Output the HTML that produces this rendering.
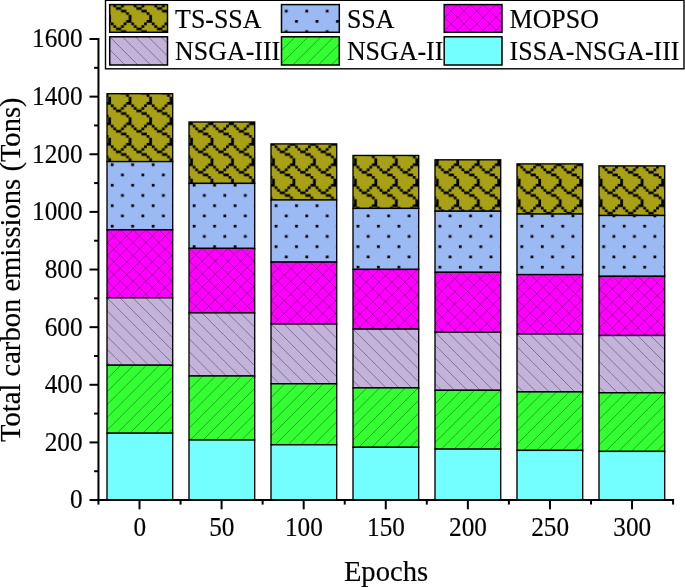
<!DOCTYPE html>
<html lang="en"><head><meta charset="utf-8"><title>Total carbon emissions</title>
<style>html,body{margin:0;padding:0;background:#fff;}body{width:685px;height:587px;overflow:hidden;}svg{display:block;}</style>
</head><body>
<svg width="685" height="587" viewBox="0 0 685 587" font-family="'Liberation Serif', 'Times New Roman', serif" fill="#000">
<defs>
<pattern id="pts" patternUnits="userSpaceOnUse" x="8.5" y="20.04" width="20.48" height="20.48"><rect width="20.48" height="20.48" fill="#a8a116"/><path d="M15.250 -0.110h5.340v2.780h-5.340zM15.250 20.370h5.340v2.780h-5.340zM-5.230 -0.110h5.340v2.780h-5.340zM-5.230 20.370h5.340v2.780h-5.340zM-0.110 2.450h2.780v2.780h-2.780zM20.370 2.450h2.780v2.780h-2.780zM12.690 2.450h2.780v2.780h-2.780zM2.450 5.010h2.780v2.780h-2.780zM10.130 5.010h2.780v2.780h-2.780zM5.010 7.570h5.340v2.780h-5.340zM10.130 10.130h5.340v2.780h-5.340zM15.250 12.690h2.780v2.780h-2.780zM17.810 15.250h2.780v2.780h-2.780zM-2.670 15.250h2.780v2.780h-2.780zM17.810 17.810h2.780v2.780h-2.780zM17.810 -2.670h2.780v2.780h-2.780zM-2.670 17.810h2.780v2.780h-2.780zM-2.670 -2.670h2.780v2.780h-2.780z" fill="#000"/></pattern>
<pattern id="pssa" patternUnits="userSpaceOnUse" x="8.5" y="20.04" width="20.48" height="20.48"><rect width="20.48" height="20.48" fill="#9bbaf3"/><path d="M-0.110 -0.110h2.780v2.780h-2.780zM-0.110 20.370h2.780v2.780h-2.780zM20.370 -0.110h2.780v2.780h-2.780zM20.370 20.370h2.780v2.780h-2.780zM10.130 10.130h2.780v2.780h-2.780z" fill="#000"/></pattern>
<clipPath id="c1"><rect x="107.00" y="229.80" width="65.70" height="68.00"/></clipPath>
<clipPath id="c2"><rect x="107.00" y="297.80" width="65.70" height="67.40"/></clipPath>
<clipPath id="c3"><rect x="107.00" y="365.20" width="65.70" height="68.00"/></clipPath>
<clipPath id="c4"><rect x="189.00" y="248.40" width="65.70" height="64.50"/></clipPath>
<clipPath id="c5"><rect x="189.00" y="312.90" width="65.70" height="63.10"/></clipPath>
<clipPath id="c6"><rect x="189.00" y="376.00" width="65.70" height="64.00"/></clipPath>
<clipPath id="c7"><rect x="271.00" y="262.10" width="65.70" height="61.90"/></clipPath>
<clipPath id="c8"><rect x="271.00" y="324.00" width="65.70" height="59.80"/></clipPath>
<clipPath id="c9"><rect x="271.00" y="383.80" width="65.70" height="61.00"/></clipPath>
<clipPath id="c10"><rect x="353.00" y="269.40" width="65.70" height="59.70"/></clipPath>
<clipPath id="c11"><rect x="353.00" y="329.10" width="65.70" height="58.80"/></clipPath>
<clipPath id="c12"><rect x="353.00" y="387.90" width="65.70" height="59.40"/></clipPath>
<clipPath id="c13"><rect x="435.00" y="272.30" width="65.70" height="59.90"/></clipPath>
<clipPath id="c14"><rect x="435.00" y="332.20" width="65.70" height="58.10"/></clipPath>
<clipPath id="c15"><rect x="435.00" y="390.30" width="65.70" height="58.80"/></clipPath>
<clipPath id="c16"><rect x="517.00" y="274.60" width="65.70" height="59.40"/></clipPath>
<clipPath id="c17"><rect x="517.00" y="334.00" width="65.70" height="57.90"/></clipPath>
<clipPath id="c18"><rect x="517.00" y="391.90" width="65.70" height="58.50"/></clipPath>
<clipPath id="c19"><rect x="599.00" y="276.30" width="65.70" height="59.20"/></clipPath>
<clipPath id="c20"><rect x="599.00" y="335.50" width="65.70" height="57.30"/></clipPath>
<clipPath id="c21"><rect x="599.00" y="392.80" width="65.70" height="58.60"/></clipPath>
<clipPath id="c22"><rect x="444.20" y="4.60" width="57.80" height="27.70"/></clipPath>
<clipPath id="c23"><rect x="109.70" y="36.80" width="57.80" height="28.20"/></clipPath>
<clipPath id="c24"><rect x="281.50" y="36.80" width="57.80" height="28.20"/></clipPath>
</defs>
<rect width="685" height="587" fill="#fff"/>
<rect x="107.00" y="93.70" width="65.70" height="67.90" fill="url(#pts)"/><rect x="107.00" y="93.70" width="65.70" height="67.90" fill="none" stroke="#000" stroke-width="1.35"/>
<rect x="107.00" y="161.60" width="65.70" height="68.20" fill="url(#pssa)"/><rect x="107.00" y="161.60" width="65.70" height="68.20" fill="none" stroke="#000" stroke-width="1.35"/>
<rect x="107.00" y="229.80" width="65.70" height="68.00" fill="#ff00ff"/><g clip-path="url(#c1)" stroke="#000" stroke-opacity="0.5" stroke-width="0.7" fill="none"><path d="M24.55 299.80L96.55 227.80"/><path d="M37.40 299.80L109.40 227.80"/><path d="M50.25 299.80L122.25 227.80"/><path d="M63.10 299.80L135.10 227.80"/><path d="M75.95 299.80L147.95 227.80"/><path d="M88.80 299.80L160.80 227.80"/><path d="M101.65 299.80L173.65 227.80"/><path d="M114.50 299.80L186.50 227.80"/><path d="M127.35 299.80L199.35 227.80"/><path d="M140.20 299.80L212.20 227.80"/><path d="M153.05 299.80L225.05 227.80"/><path d="M165.90 299.80L237.90 227.80"/><path d="M178.75 299.80L250.75 227.80"/><path d="M28.40 227.80L100.40 299.80"/><path d="M41.25 227.80L113.25 299.80"/><path d="M54.10 227.80L126.10 299.80"/><path d="M66.95 227.80L138.95 299.80"/><path d="M79.80 227.80L151.80 299.80"/><path d="M92.65 227.80L164.65 299.80"/><path d="M105.50 227.80L177.50 299.80"/><path d="M118.35 227.80L190.35 299.80"/><path d="M131.20 227.80L203.20 299.80"/><path d="M144.05 227.80L216.05 299.80"/><path d="M156.90 227.80L228.90 299.80"/><path d="M169.75 227.80L241.75 299.80"/><path d="M182.60 227.80L254.60 299.80"/></g><rect x="107.00" y="229.80" width="65.70" height="68.00" fill="none" stroke="#000" stroke-width="1.35"/>
<rect x="107.00" y="297.80" width="65.70" height="67.40" fill="#c3b2d9"/><g clip-path="url(#c2)" stroke="#000" stroke-opacity="0.5" stroke-width="0.7" fill="none"><path d="M27.90 295.80L99.30 367.20"/><path d="M40.75 295.80L112.15 367.20"/><path d="M53.60 295.80L125.00 367.20"/><path d="M66.45 295.80L137.85 367.20"/><path d="M79.30 295.80L150.70 367.20"/><path d="M92.15 295.80L163.55 367.20"/><path d="M105.00 295.80L176.40 367.20"/><path d="M117.85 295.80L189.25 367.20"/><path d="M130.70 295.80L202.10 367.20"/><path d="M143.55 295.80L214.95 367.20"/><path d="M156.40 295.80L227.80 367.20"/><path d="M169.25 295.80L240.65 367.20"/><path d="M182.10 295.80L253.50 367.20"/></g><rect x="107.00" y="297.80" width="65.70" height="67.40" fill="none" stroke="#000" stroke-width="1.35"/>
<rect x="107.00" y="365.20" width="65.70" height="68.00" fill="#33ff33"/><g clip-path="url(#c3)" stroke="#000" stroke-opacity="0.5" stroke-width="0.7" fill="none"><path d="M25.05 435.20L97.05 363.20"/><path d="M37.90 435.20L109.90 363.20"/><path d="M50.75 435.20L122.75 363.20"/><path d="M63.60 435.20L135.60 363.20"/><path d="M76.45 435.20L148.45 363.20"/><path d="M89.30 435.20L161.30 363.20"/><path d="M102.15 435.20L174.15 363.20"/><path d="M115.00 435.20L187.00 363.20"/><path d="M127.85 435.20L199.85 363.20"/><path d="M140.70 435.20L212.70 363.20"/><path d="M153.55 435.20L225.55 363.20"/><path d="M166.40 435.20L238.40 363.20"/><path d="M179.25 435.20L251.25 363.20"/></g><rect x="107.00" y="365.20" width="65.70" height="68.00" fill="none" stroke="#000" stroke-width="1.35"/>
<rect x="107.00" y="433.20" width="65.70" height="66.85" fill="#73ffff"/><rect x="107.00" y="433.20" width="65.70" height="66.85" fill="none" stroke="#000" stroke-width="1.35"/>
<rect x="189.00" y="122.00" width="65.70" height="61.40" fill="url(#pts)"/><rect x="189.00" y="122.00" width="65.70" height="61.40" fill="none" stroke="#000" stroke-width="1.35"/>
<rect x="189.00" y="183.40" width="65.70" height="65.00" fill="url(#pssa)"/><rect x="189.00" y="183.40" width="65.70" height="65.00" fill="none" stroke="#000" stroke-width="1.35"/>
<rect x="189.00" y="248.40" width="65.70" height="64.50" fill="#ff00ff"/><g clip-path="url(#c4)" stroke="#000" stroke-opacity="0.5" stroke-width="0.7" fill="none"><path d="M110.05 314.90L178.55 246.40"/><path d="M122.90 314.90L191.40 246.40"/><path d="M135.75 314.90L204.25 246.40"/><path d="M148.60 314.90L217.10 246.40"/><path d="M161.45 314.90L229.95 246.40"/><path d="M174.30 314.90L242.80 246.40"/><path d="M187.15 314.90L255.65 246.40"/><path d="M200.00 314.90L268.50 246.40"/><path d="M212.85 314.90L281.35 246.40"/><path d="M225.70 314.90L294.20 246.40"/><path d="M238.55 314.90L307.05 246.40"/><path d="M251.40 314.90L319.90 246.40"/><path d="M264.25 314.90L332.75 246.40"/><path d="M110.40 246.40L178.90 314.90"/><path d="M123.25 246.40L191.75 314.90"/><path d="M136.10 246.40L204.60 314.90"/><path d="M148.95 246.40L217.45 314.90"/><path d="M161.80 246.40L230.30 314.90"/><path d="M174.65 246.40L243.15 314.90"/><path d="M187.50 246.40L256.00 314.90"/><path d="M200.35 246.40L268.85 314.90"/><path d="M213.20 246.40L281.70 314.90"/><path d="M226.05 246.40L294.55 314.90"/><path d="M238.90 246.40L307.40 314.90"/><path d="M251.75 246.40L320.25 314.90"/><path d="M264.60 246.40L333.10 314.90"/></g><rect x="189.00" y="248.40" width="65.70" height="64.50" fill="none" stroke="#000" stroke-width="1.35"/>
<rect x="189.00" y="312.90" width="65.70" height="63.10" fill="#c3b2d9"/><g clip-path="url(#c5)" stroke="#000" stroke-opacity="0.5" stroke-width="0.7" fill="none"><path d="M122.75 310.90L189.85 378.00"/><path d="M135.60 310.90L202.70 378.00"/><path d="M148.45 310.90L215.55 378.00"/><path d="M161.30 310.90L228.40 378.00"/><path d="M174.15 310.90L241.25 378.00"/><path d="M187.00 310.90L254.10 378.00"/><path d="M199.85 310.90L266.95 378.00"/><path d="M212.70 310.90L279.80 378.00"/><path d="M225.55 310.90L292.65 378.00"/><path d="M238.40 310.90L305.50 378.00"/><path d="M251.25 310.90L318.35 378.00"/><path d="M264.10 310.90L331.20 378.00"/></g><rect x="189.00" y="312.90" width="65.70" height="63.10" fill="none" stroke="#000" stroke-width="1.35"/>
<rect x="189.00" y="376.00" width="65.70" height="64.00" fill="#33ff33"/><g clip-path="url(#c6)" stroke="#000" stroke-opacity="0.5" stroke-width="0.7" fill="none"><path d="M111.05 442.00L179.05 374.00"/><path d="M123.90 442.00L191.90 374.00"/><path d="M136.75 442.00L204.75 374.00"/><path d="M149.60 442.00L217.60 374.00"/><path d="M162.45 442.00L230.45 374.00"/><path d="M175.30 442.00L243.30 374.00"/><path d="M188.15 442.00L256.15 374.00"/><path d="M201.00 442.00L269.00 374.00"/><path d="M213.85 442.00L281.85 374.00"/><path d="M226.70 442.00L294.70 374.00"/><path d="M239.55 442.00L307.55 374.00"/><path d="M252.40 442.00L320.40 374.00"/><path d="M265.25 442.00L333.25 374.00"/></g><rect x="189.00" y="376.00" width="65.70" height="64.00" fill="none" stroke="#000" stroke-width="1.35"/>
<rect x="189.00" y="440.00" width="65.70" height="60.05" fill="#73ffff"/><rect x="189.00" y="440.00" width="65.70" height="60.05" fill="none" stroke="#000" stroke-width="1.35"/>
<rect x="271.00" y="143.90" width="65.70" height="56.05" fill="url(#pts)"/><rect x="271.00" y="143.90" width="65.70" height="56.05" fill="none" stroke="#000" stroke-width="1.35"/>
<rect x="271.00" y="199.95" width="65.70" height="62.15" fill="url(#pssa)"/><rect x="271.00" y="199.95" width="65.70" height="62.15" fill="none" stroke="#000" stroke-width="1.35"/>
<rect x="271.00" y="262.10" width="65.70" height="61.90" fill="#ff00ff"/><g clip-path="url(#c7)" stroke="#000" stroke-opacity="0.5" stroke-width="0.7" fill="none"><path d="M194.65 326.00L260.55 260.10"/><path d="M207.50 326.00L273.40 260.10"/><path d="M220.35 326.00L286.25 260.10"/><path d="M233.20 326.00L299.10 260.10"/><path d="M246.05 326.00L311.95 260.10"/><path d="M258.90 326.00L324.80 260.10"/><path d="M271.75 326.00L337.65 260.10"/><path d="M284.60 326.00L350.50 260.10"/><path d="M297.45 326.00L363.35 260.10"/><path d="M310.30 326.00L376.20 260.10"/><path d="M323.15 326.00L389.05 260.10"/><path d="M336.00 326.00L401.90 260.10"/><path d="M205.25 260.10L271.15 326.00"/><path d="M218.10 260.10L284.00 326.00"/><path d="M230.95 260.10L296.85 326.00"/><path d="M243.80 260.10L309.70 326.00"/><path d="M256.65 260.10L322.55 326.00"/><path d="M269.50 260.10L335.40 326.00"/><path d="M282.35 260.10L348.25 326.00"/><path d="M295.20 260.10L361.10 326.00"/><path d="M308.05 260.10L373.95 326.00"/><path d="M320.90 260.10L386.80 326.00"/><path d="M333.75 260.10L399.65 326.00"/><path d="M346.60 260.10L412.50 326.00"/></g><rect x="271.00" y="262.10" width="65.70" height="61.90" fill="none" stroke="#000" stroke-width="1.35"/>
<rect x="271.00" y="324.00" width="65.70" height="59.80" fill="#c3b2d9"/><g clip-path="url(#c8)" stroke="#000" stroke-opacity="0.5" stroke-width="0.7" fill="none"><path d="M204.75 322.00L268.55 385.80"/><path d="M217.60 322.00L281.40 385.80"/><path d="M230.45 322.00L294.25 385.80"/><path d="M243.30 322.00L307.10 385.80"/><path d="M256.15 322.00L319.95 385.80"/><path d="M269.00 322.00L332.80 385.80"/><path d="M281.85 322.00L345.65 385.80"/><path d="M294.70 322.00L358.50 385.80"/><path d="M307.55 322.00L371.35 385.80"/><path d="M320.40 322.00L384.20 385.80"/><path d="M333.25 322.00L397.05 385.80"/><path d="M346.10 322.00L409.90 385.80"/></g><rect x="271.00" y="324.00" width="65.70" height="59.80" fill="none" stroke="#000" stroke-width="1.35"/>
<rect x="271.00" y="383.80" width="65.70" height="61.00" fill="#33ff33"/><g clip-path="url(#c9)" stroke="#000" stroke-opacity="0.5" stroke-width="0.7" fill="none"><path d="M196.05 446.80L261.05 381.80"/><path d="M208.90 446.80L273.90 381.80"/><path d="M221.75 446.80L286.75 381.80"/><path d="M234.60 446.80L299.60 381.80"/><path d="M247.45 446.80L312.45 381.80"/><path d="M260.30 446.80L325.30 381.80"/><path d="M273.15 446.80L338.15 381.80"/><path d="M286.00 446.80L351.00 381.80"/><path d="M298.85 446.80L363.85 381.80"/><path d="M311.70 446.80L376.70 381.80"/><path d="M324.55 446.80L389.55 381.80"/><path d="M337.40 446.80L402.40 381.80"/></g><rect x="271.00" y="383.80" width="65.70" height="61.00" fill="none" stroke="#000" stroke-width="1.35"/>
<rect x="271.00" y="444.80" width="65.70" height="55.25" fill="#73ffff"/><rect x="271.00" y="444.80" width="65.70" height="55.25" fill="none" stroke="#000" stroke-width="1.35"/>
<rect x="353.00" y="155.45" width="65.70" height="52.95" fill="url(#pts)"/><rect x="353.00" y="155.45" width="65.70" height="52.95" fill="none" stroke="#000" stroke-width="1.35"/>
<rect x="353.00" y="208.40" width="65.70" height="61.00" fill="url(#pssa)"/><rect x="353.00" y="208.40" width="65.70" height="61.00" fill="none" stroke="#000" stroke-width="1.35"/>
<rect x="353.00" y="269.40" width="65.70" height="59.70" fill="#ff00ff"/><g clip-path="url(#c10)" stroke="#000" stroke-opacity="0.5" stroke-width="0.7" fill="none"><path d="M278.85 331.10L342.55 267.40"/><path d="M291.70 331.10L355.40 267.40"/><path d="M304.55 331.10L368.25 267.40"/><path d="M317.40 331.10L381.10 267.40"/><path d="M330.25 331.10L393.95 267.40"/><path d="M343.10 331.10L406.80 267.40"/><path d="M355.95 331.10L419.65 267.40"/><path d="M368.80 331.10L432.50 267.40"/><path d="M381.65 331.10L445.35 267.40"/><path d="M394.50 331.10L458.20 267.40"/><path d="M407.35 331.10L471.05 267.40"/><path d="M420.20 331.10L483.90 267.40"/><path d="M287.25 267.40L350.95 331.10"/><path d="M300.10 267.40L363.80 331.10"/><path d="M312.95 267.40L376.65 331.10"/><path d="M325.80 267.40L389.50 331.10"/><path d="M338.65 267.40L402.35 331.10"/><path d="M351.50 267.40L415.20 331.10"/><path d="M364.35 267.40L428.05 331.10"/><path d="M377.20 267.40L440.90 331.10"/><path d="M390.05 267.40L453.75 331.10"/><path d="M402.90 267.40L466.60 331.10"/><path d="M415.75 267.40L479.45 331.10"/><path d="M428.60 267.40L492.30 331.10"/></g><rect x="353.00" y="269.40" width="65.70" height="59.70" fill="none" stroke="#000" stroke-width="1.35"/>
<rect x="353.00" y="329.10" width="65.70" height="58.80" fill="#c3b2d9"/><g clip-path="url(#c11)" stroke="#000" stroke-opacity="0.5" stroke-width="0.7" fill="none"><path d="M286.75 327.10L349.55 389.90"/><path d="M299.60 327.10L362.40 389.90"/><path d="M312.45 327.10L375.25 389.90"/><path d="M325.30 327.10L388.10 389.90"/><path d="M338.15 327.10L400.95 389.90"/><path d="M351.00 327.10L413.80 389.90"/><path d="M363.85 327.10L426.65 389.90"/><path d="M376.70 327.10L439.50 389.90"/><path d="M389.55 327.10L452.35 389.90"/><path d="M402.40 327.10L465.20 389.90"/><path d="M415.25 327.10L478.05 389.90"/><path d="M428.10 327.10L490.90 389.90"/></g><rect x="353.00" y="329.10" width="65.70" height="58.80" fill="none" stroke="#000" stroke-width="1.35"/>
<rect x="353.00" y="387.90" width="65.70" height="59.40" fill="#33ff33"/><g clip-path="url(#c12)" stroke="#000" stroke-opacity="0.5" stroke-width="0.7" fill="none"><path d="M279.65 449.30L343.05 385.90"/><path d="M292.50 449.30L355.90 385.90"/><path d="M305.35 449.30L368.75 385.90"/><path d="M318.20 449.30L381.60 385.90"/><path d="M331.05 449.30L394.45 385.90"/><path d="M343.90 449.30L407.30 385.90"/><path d="M356.75 449.30L420.15 385.90"/><path d="M369.60 449.30L433.00 385.90"/><path d="M382.45 449.30L445.85 385.90"/><path d="M395.30 449.30L458.70 385.90"/><path d="M408.15 449.30L471.55 385.90"/><path d="M421.00 449.30L484.40 385.90"/></g><rect x="353.00" y="387.90" width="65.70" height="59.40" fill="none" stroke="#000" stroke-width="1.35"/>
<rect x="353.00" y="447.30" width="65.70" height="52.75" fill="#73ffff"/><rect x="353.00" y="447.30" width="65.70" height="52.75" fill="none" stroke="#000" stroke-width="1.35"/>
<rect x="435.00" y="159.80" width="65.70" height="51.40" fill="url(#pts)"/><rect x="435.00" y="159.80" width="65.70" height="51.40" fill="none" stroke="#000" stroke-width="1.35"/>
<rect x="435.00" y="211.20" width="65.70" height="61.10" fill="url(#pssa)"/><rect x="435.00" y="211.20" width="65.70" height="61.10" fill="none" stroke="#000" stroke-width="1.35"/>
<rect x="435.00" y="272.30" width="65.70" height="59.90" fill="#ff00ff"/><g clip-path="url(#c13)" stroke="#000" stroke-opacity="0.5" stroke-width="0.7" fill="none"><path d="M360.65 334.20L424.55 270.30"/><path d="M373.50 334.20L437.40 270.30"/><path d="M386.35 334.20L450.25 270.30"/><path d="M399.20 334.20L463.10 270.30"/><path d="M412.05 334.20L475.95 270.30"/><path d="M424.90 334.20L488.80 270.30"/><path d="M437.75 334.20L501.65 270.30"/><path d="M450.60 334.20L514.50 270.30"/><path d="M463.45 334.20L527.35 270.30"/><path d="M476.30 334.20L540.20 270.30"/><path d="M489.15 334.20L553.05 270.30"/><path d="M502.00 334.20L565.90 270.30"/><path d="M369.25 270.30L433.15 334.20"/><path d="M382.10 270.30L446.00 334.20"/><path d="M394.95 270.30L458.85 334.20"/><path d="M407.80 270.30L471.70 334.20"/><path d="M420.65 270.30L484.55 334.20"/><path d="M433.50 270.30L497.40 334.20"/><path d="M446.35 270.30L510.25 334.20"/><path d="M459.20 270.30L523.10 334.20"/><path d="M472.05 270.30L535.95 334.20"/><path d="M484.90 270.30L548.80 334.20"/><path d="M497.75 270.30L561.65 334.20"/><path d="M510.60 270.30L574.50 334.20"/></g><rect x="435.00" y="272.30" width="65.70" height="59.90" fill="none" stroke="#000" stroke-width="1.35"/>
<rect x="435.00" y="332.20" width="65.70" height="58.10" fill="#c3b2d9"/><g clip-path="url(#c14)" stroke="#000" stroke-opacity="0.5" stroke-width="0.7" fill="none"><path d="M368.75 330.20L430.85 392.30"/><path d="M381.60 330.20L443.70 392.30"/><path d="M394.45 330.20L456.55 392.30"/><path d="M407.30 330.20L469.40 392.30"/><path d="M420.15 330.20L482.25 392.30"/><path d="M433.00 330.20L495.10 392.30"/><path d="M445.85 330.20L507.95 392.30"/><path d="M458.70 330.20L520.80 392.30"/><path d="M471.55 330.20L533.65 392.30"/><path d="M484.40 330.20L546.50 392.30"/><path d="M497.25 330.20L559.35 392.30"/><path d="M510.10 330.20L572.20 392.30"/></g><rect x="435.00" y="332.20" width="65.70" height="58.10" fill="none" stroke="#000" stroke-width="1.35"/>
<rect x="435.00" y="390.30" width="65.70" height="58.80" fill="#33ff33"/><g clip-path="url(#c15)" stroke="#000" stroke-opacity="0.5" stroke-width="0.7" fill="none"><path d="M362.25 451.10L425.05 388.30"/><path d="M375.10 451.10L437.90 388.30"/><path d="M387.95 451.10L450.75 388.30"/><path d="M400.80 451.10L463.60 388.30"/><path d="M413.65 451.10L476.45 388.30"/><path d="M426.50 451.10L489.30 388.30"/><path d="M439.35 451.10L502.15 388.30"/><path d="M452.20 451.10L515.00 388.30"/><path d="M465.05 451.10L527.85 388.30"/><path d="M477.90 451.10L540.70 388.30"/><path d="M490.75 451.10L553.55 388.30"/><path d="M503.60 451.10L566.40 388.30"/></g><rect x="435.00" y="390.30" width="65.70" height="58.80" fill="none" stroke="#000" stroke-width="1.35"/>
<rect x="435.00" y="449.10" width="65.70" height="50.95" fill="#73ffff"/><rect x="435.00" y="449.10" width="65.70" height="50.95" fill="none" stroke="#000" stroke-width="1.35"/>
<rect x="517.00" y="163.90" width="65.70" height="50.10" fill="url(#pts)"/><rect x="517.00" y="163.90" width="65.70" height="50.10" fill="none" stroke="#000" stroke-width="1.35"/>
<rect x="517.00" y="214.00" width="65.70" height="60.60" fill="url(#pssa)"/><rect x="517.00" y="214.00" width="65.70" height="60.60" fill="none" stroke="#000" stroke-width="1.35"/>
<rect x="517.00" y="274.60" width="65.70" height="59.40" fill="#ff00ff"/><g clip-path="url(#c16)" stroke="#000" stroke-opacity="0.5" stroke-width="0.7" fill="none"><path d="M443.15 336.00L506.55 272.60"/><path d="M456.00 336.00L519.40 272.60"/><path d="M468.85 336.00L532.25 272.60"/><path d="M481.70 336.00L545.10 272.60"/><path d="M494.55 336.00L557.95 272.60"/><path d="M507.40 336.00L570.80 272.60"/><path d="M520.25 336.00L583.65 272.60"/><path d="M533.10 336.00L596.50 272.60"/><path d="M545.95 336.00L609.35 272.60"/><path d="M558.80 336.00L622.20 272.60"/><path d="M571.65 336.00L635.05 272.60"/><path d="M584.50 336.00L647.90 272.60"/><path d="M451.25 272.60L514.65 336.00"/><path d="M464.10 272.60L527.50 336.00"/><path d="M476.95 272.60L540.35 336.00"/><path d="M489.80 272.60L553.20 336.00"/><path d="M502.65 272.60L566.05 336.00"/><path d="M515.50 272.60L578.90 336.00"/><path d="M528.35 272.60L591.75 336.00"/><path d="M541.20 272.60L604.60 336.00"/><path d="M554.05 272.60L617.45 336.00"/><path d="M566.90 272.60L630.30 336.00"/><path d="M579.75 272.60L643.15 336.00"/><path d="M592.60 272.60L656.00 336.00"/></g><rect x="517.00" y="274.60" width="65.70" height="59.40" fill="none" stroke="#000" stroke-width="1.35"/>
<rect x="517.00" y="334.00" width="65.70" height="57.90" fill="#c3b2d9"/><g clip-path="url(#c17)" stroke="#000" stroke-opacity="0.5" stroke-width="0.7" fill="none"><path d="M450.75 332.00L512.65 393.90"/><path d="M463.60 332.00L525.50 393.90"/><path d="M476.45 332.00L538.35 393.90"/><path d="M489.30 332.00L551.20 393.90"/><path d="M502.15 332.00L564.05 393.90"/><path d="M515.00 332.00L576.90 393.90"/><path d="M527.85 332.00L589.75 393.90"/><path d="M540.70 332.00L602.60 393.90"/><path d="M553.55 332.00L615.45 393.90"/><path d="M566.40 332.00L628.30 393.90"/><path d="M579.25 332.00L641.15 393.90"/><path d="M592.10 332.00L654.00 393.90"/></g><rect x="517.00" y="334.00" width="65.70" height="57.90" fill="none" stroke="#000" stroke-width="1.35"/>
<rect x="517.00" y="391.90" width="65.70" height="58.50" fill="#33ff33"/><g clip-path="url(#c18)" stroke="#000" stroke-opacity="0.5" stroke-width="0.7" fill="none"><path d="M444.55 452.40L507.05 389.90"/><path d="M457.40 452.40L519.90 389.90"/><path d="M470.25 452.40L532.75 389.90"/><path d="M483.10 452.40L545.60 389.90"/><path d="M495.95 452.40L558.45 389.90"/><path d="M508.80 452.40L571.30 389.90"/><path d="M521.65 452.40L584.15 389.90"/><path d="M534.50 452.40L597.00 389.90"/><path d="M547.35 452.40L609.85 389.90"/><path d="M560.20 452.40L622.70 389.90"/><path d="M573.05 452.40L635.55 389.90"/><path d="M585.90 452.40L648.40 389.90"/></g><rect x="517.00" y="391.90" width="65.70" height="58.50" fill="none" stroke="#000" stroke-width="1.35"/>
<rect x="517.00" y="450.40" width="65.70" height="49.65" fill="#73ffff"/><rect x="517.00" y="450.40" width="65.70" height="49.65" fill="none" stroke="#000" stroke-width="1.35"/>
<rect x="599.00" y="165.90" width="65.70" height="49.60" fill="url(#pts)"/><rect x="599.00" y="165.90" width="65.70" height="49.60" fill="none" stroke="#000" stroke-width="1.35"/>
<rect x="599.00" y="215.50" width="65.70" height="60.80" fill="url(#pssa)"/><rect x="599.00" y="215.50" width="65.70" height="60.80" fill="none" stroke="#000" stroke-width="1.35"/>
<rect x="599.00" y="276.30" width="65.70" height="59.20" fill="#ff00ff"/><g clip-path="url(#c19)" stroke="#000" stroke-opacity="0.5" stroke-width="0.7" fill="none"><path d="M525.35 337.50L588.55 274.30"/><path d="M538.20 337.50L601.40 274.30"/><path d="M551.05 337.50L614.25 274.30"/><path d="M563.90 337.50L627.10 274.30"/><path d="M576.75 337.50L639.95 274.30"/><path d="M589.60 337.50L652.80 274.30"/><path d="M602.45 337.50L665.65 274.30"/><path d="M615.30 337.50L678.50 274.30"/><path d="M628.15 337.50L691.35 274.30"/><path d="M641.00 337.50L704.20 274.30"/><path d="M653.85 337.50L717.05 274.30"/><path d="M666.70 337.50L729.90 274.30"/><path d="M533.25 274.30L596.45 337.50"/><path d="M546.10 274.30L609.30 337.50"/><path d="M558.95 274.30L622.15 337.50"/><path d="M571.80 274.30L635.00 337.50"/><path d="M584.65 274.30L647.85 337.50"/><path d="M597.50 274.30L660.70 337.50"/><path d="M610.35 274.30L673.55 337.50"/><path d="M623.20 274.30L686.40 337.50"/><path d="M636.05 274.30L699.25 337.50"/><path d="M648.90 274.30L712.10 337.50"/><path d="M661.75 274.30L724.95 337.50"/><path d="M674.60 274.30L737.80 337.50"/></g><rect x="599.00" y="276.30" width="65.70" height="59.20" fill="none" stroke="#000" stroke-width="1.35"/>
<rect x="599.00" y="335.50" width="65.70" height="57.30" fill="#c3b2d9"/><g clip-path="url(#c20)" stroke="#000" stroke-opacity="0.5" stroke-width="0.7" fill="none"><path d="M532.75 333.50L594.05 394.80"/><path d="M545.60 333.50L606.90 394.80"/><path d="M558.45 333.50L619.75 394.80"/><path d="M571.30 333.50L632.60 394.80"/><path d="M584.15 333.50L645.45 394.80"/><path d="M597.00 333.50L658.30 394.80"/><path d="M609.85 333.50L671.15 394.80"/><path d="M622.70 333.50L684.00 394.80"/><path d="M635.55 333.50L696.85 394.80"/><path d="M648.40 333.50L709.70 394.80"/><path d="M661.25 333.50L722.55 394.80"/><path d="M674.10 333.50L735.40 394.80"/></g><rect x="599.00" y="335.50" width="65.70" height="57.30" fill="none" stroke="#000" stroke-width="1.35"/>
<rect x="599.00" y="392.80" width="65.70" height="58.60" fill="#33ff33"/><g clip-path="url(#c21)" stroke="#000" stroke-opacity="0.5" stroke-width="0.7" fill="none"><path d="M526.45 453.40L589.05 390.80"/><path d="M539.30 453.40L601.90 390.80"/><path d="M552.15 453.40L614.75 390.80"/><path d="M565.00 453.40L627.60 390.80"/><path d="M577.85 453.40L640.45 390.80"/><path d="M590.70 453.40L653.30 390.80"/><path d="M603.55 453.40L666.15 390.80"/><path d="M616.40 453.40L679.00 390.80"/><path d="M629.25 453.40L691.85 390.80"/><path d="M642.10 453.40L704.70 390.80"/><path d="M654.95 453.40L717.55 390.80"/><path d="M667.80 453.40L730.40 390.80"/></g><rect x="599.00" y="392.80" width="65.70" height="58.60" fill="none" stroke="#000" stroke-width="1.35"/>
<rect x="599.00" y="451.40" width="65.70" height="48.65" fill="#73ffff"/><rect x="599.00" y="451.40" width="65.70" height="48.65" fill="none" stroke="#000" stroke-width="1.35"/>
<g stroke="#000" stroke-width="2.0" fill="none" stroke-linecap="butt">
<path d="M98.45 38.0V501.05"/>
<path d="M97.45 500.05H674.05"/>
<path d="M89.5 500.05H98.45"/>
<path d="M94.1 471.23H98.45"/>
<path d="M89.5 442.42H98.45"/>
<path d="M94.1 413.60H98.45"/>
<path d="M89.5 384.79H98.45"/>
<path d="M94.1 355.97H98.45"/>
<path d="M89.5 327.16H98.45"/>
<path d="M94.1 298.34H98.45"/>
<path d="M89.5 269.52H98.45"/>
<path d="M94.1 240.71H98.45"/>
<path d="M89.5 211.89H98.45"/>
<path d="M94.1 183.08H98.45"/>
<path d="M89.5 154.26H98.45"/>
<path d="M94.1 125.45H98.45"/>
<path d="M89.5 96.63H98.45"/>
<path d="M94.1 67.82H98.45"/>
<path d="M89.5 39.00H98.45"/>
<path d="M98.45 500.05V504.6"/>
<path d="M139.50 500.05V509.3"/>
<path d="M180.55 500.05V504.6"/>
<path d="M221.59 500.05V509.3"/>
<path d="M262.63 500.05V504.6"/>
<path d="M303.68 500.05V509.3"/>
<path d="M344.73 500.05V504.6"/>
<path d="M385.77 500.05V509.3"/>
<path d="M426.81 500.05V504.6"/>
<path d="M467.86 500.05V509.3"/>
<path d="M508.91 500.05V504.6"/>
<path d="M549.95 500.05V509.3"/>
<path d="M591.00 500.05V504.6"/>
<path d="M632.04 500.05V509.3"/>
<path d="M673.09 500.05V504.6"/>
</g>
<text transform="translate(82.60 508.45) scale(0.972 1.075)" font-size="26px" text-anchor="end" stroke="#000" stroke-width="0.156">0</text>
<text transform="translate(82.60 450.82) scale(0.972 1.075)" font-size="26px" text-anchor="end" stroke="#000" stroke-width="0.156">200</text>
<text transform="translate(82.60 393.19) scale(0.972 1.075)" font-size="26px" text-anchor="end" stroke="#000" stroke-width="0.156">400</text>
<text transform="translate(82.60 335.56) scale(0.972 1.075)" font-size="26px" text-anchor="end" stroke="#000" stroke-width="0.156">600</text>
<text transform="translate(82.60 277.92) scale(0.972 1.075)" font-size="26px" text-anchor="end" stroke="#000" stroke-width="0.156">800</text>
<text transform="translate(82.60 220.29) scale(0.972 1.075)" font-size="26px" text-anchor="end" stroke="#000" stroke-width="0.156">1000</text>
<text transform="translate(82.60 162.66) scale(0.972 1.075)" font-size="26px" text-anchor="end" stroke="#000" stroke-width="0.156">1200</text>
<text transform="translate(82.60 105.03) scale(0.972 1.075)" font-size="26px" text-anchor="end" stroke="#000" stroke-width="0.156">1400</text>
<text transform="translate(82.60 47.40) scale(0.972 1.075)" font-size="26px" text-anchor="end" stroke="#000" stroke-width="0.156">1600</text>
<text transform="translate(139.70 536.30) scale(0.972 1.075)" font-size="26px" text-anchor="middle" stroke="#000" stroke-width="0.156">0</text>
<text transform="translate(221.79 536.30) scale(0.972 1.075)" font-size="26px" text-anchor="middle" stroke="#000" stroke-width="0.156">50</text>
<text transform="translate(303.88 536.30) scale(0.972 1.075)" font-size="26px" text-anchor="middle" stroke="#000" stroke-width="0.156">100</text>
<text transform="translate(385.97 536.30) scale(0.972 1.075)" font-size="26px" text-anchor="middle" stroke="#000" stroke-width="0.156">150</text>
<text transform="translate(468.06 536.30) scale(0.972 1.075)" font-size="26px" text-anchor="middle" stroke="#000" stroke-width="0.156">200</text>
<text transform="translate(550.15 536.30) scale(0.972 1.075)" font-size="26px" text-anchor="middle" stroke="#000" stroke-width="0.156">250</text>
<text transform="translate(632.24 536.30) scale(0.972 1.075)" font-size="26px" text-anchor="middle" stroke="#000" stroke-width="0.156">300</text>
<text transform="translate(386.00 581.20) scale(1.008 1)" font-size="28.4px" text-anchor="middle" stroke="#000" stroke-width="0.159">Epochs</text>
<text transform="translate(19.90 269.70) rotate(-90) scale(1.011 1.06)" font-size="28.3px" text-anchor="middle" stroke="#000" stroke-width="0.155">Total carbon emissions (Tons)</text>
<rect x="105.5" y="0.3" width="578.5" height="68.5" fill="#fff" stroke="#000" stroke-width="1.4"/>
<rect x="109.70" y="4.60" width="57.80" height="27.70" fill="url(#pts)"/><rect x="109.70" y="4.60" width="57.80" height="27.70" fill="none" stroke="#000" stroke-width="1.5"/>
<text transform="translate(175.10 27.50) scale(0.997 1.062)" font-size="26px" text-anchor="start" stroke="#000" stroke-width="0.155">TS-SSA</text>
<rect x="281.50" y="4.60" width="57.80" height="27.70" fill="url(#pssa)"/><rect x="281.50" y="4.60" width="57.80" height="27.70" fill="none" stroke="#000" stroke-width="1.5"/>
<text transform="translate(346.90 27.50) scale(0.997 1.062)" font-size="26px" text-anchor="start" stroke="#000" stroke-width="0.155">SSA</text>
<rect x="444.20" y="4.60" width="57.80" height="27.70" fill="#ff00ff"/><g clip-path="url(#c22)" stroke="#000" stroke-opacity="0.5" stroke-width="0.7" fill="none"><path d="M402.05 34.30L433.75 2.60"/><path d="M414.90 34.30L446.60 2.60"/><path d="M427.75 34.30L459.45 2.60"/><path d="M440.60 34.30L472.30 2.60"/><path d="M453.45 34.30L485.15 2.60"/><path d="M466.30 34.30L498.00 2.60"/><path d="M479.15 34.30L510.85 2.60"/><path d="M492.00 34.30L523.70 2.60"/><path d="M504.85 34.30L536.55 2.60"/><path d="M404.15 2.60L435.85 34.30"/><path d="M417.00 2.60L448.70 34.30"/><path d="M429.85 2.60L461.55 34.30"/><path d="M442.70 2.60L474.40 34.30"/><path d="M455.55 2.60L487.25 34.30"/><path d="M468.40 2.60L500.10 34.30"/><path d="M481.25 2.60L512.95 34.30"/><path d="M494.10 2.60L525.80 34.30"/><path d="M506.95 2.60L538.65 34.30"/></g><rect x="444.20" y="4.60" width="57.80" height="27.70" fill="none" stroke="#000" stroke-width="1.5"/>
<text transform="translate(509.60 27.50) scale(0.997 1.062)" font-size="26px" text-anchor="start" stroke="#000" stroke-width="0.155">MOPSO</text>
<rect x="109.70" y="36.80" width="57.80" height="28.20" fill="#c3b2d9"/><g clip-path="url(#c23)" stroke="#000" stroke-opacity="0.5" stroke-width="0.7" fill="none"><path d="M69.15 34.80L101.35 67.00"/><path d="M82.00 34.80L114.20 67.00"/><path d="M94.85 34.80L127.05 67.00"/><path d="M107.70 34.80L139.90 67.00"/><path d="M120.55 34.80L152.75 67.00"/><path d="M133.40 34.80L165.60 67.00"/><path d="M146.25 34.80L178.45 67.00"/><path d="M159.10 34.80L191.30 67.00"/><path d="M171.95 34.80L204.15 67.00"/></g><rect x="109.70" y="36.80" width="57.80" height="28.20" fill="none" stroke="#000" stroke-width="1.5"/>
<text transform="translate(175.10 59.50) scale(0.997 1.062)" font-size="26px" text-anchor="start" stroke="#000" stroke-width="0.155">NSGA-III</text>
<rect x="281.50" y="36.80" width="57.80" height="28.20" fill="#33ff33"/><g clip-path="url(#c24)" stroke="#000" stroke-opacity="0.5" stroke-width="0.7" fill="none"><path d="M239.35 67.00L271.55 34.80"/><path d="M252.20 67.00L284.40 34.80"/><path d="M265.05 67.00L297.25 34.80"/><path d="M277.90 67.00L310.10 34.80"/><path d="M290.75 67.00L322.95 34.80"/><path d="M303.60 67.00L335.80 34.80"/><path d="M316.45 67.00L348.65 34.80"/><path d="M329.30 67.00L361.50 34.80"/><path d="M342.15 67.00L374.35 34.80"/></g><rect x="281.50" y="36.80" width="57.80" height="28.20" fill="none" stroke="#000" stroke-width="1.5"/>
<text transform="translate(346.90 59.50) scale(0.997 1.062)" font-size="26px" text-anchor="start" stroke="#000" stroke-width="0.155">NSGA-II</text>
<rect x="444.20" y="36.80" width="57.80" height="28.20" fill="#73ffff"/><rect x="444.20" y="36.80" width="57.80" height="28.20" fill="none" stroke="#000" stroke-width="1.5"/>
<text transform="translate(509.60 59.50) scale(0.997 1.062)" font-size="26px" text-anchor="start" stroke="#000" stroke-width="0.155">ISSA-NSGA-III</text>
</svg>
</body></html>
